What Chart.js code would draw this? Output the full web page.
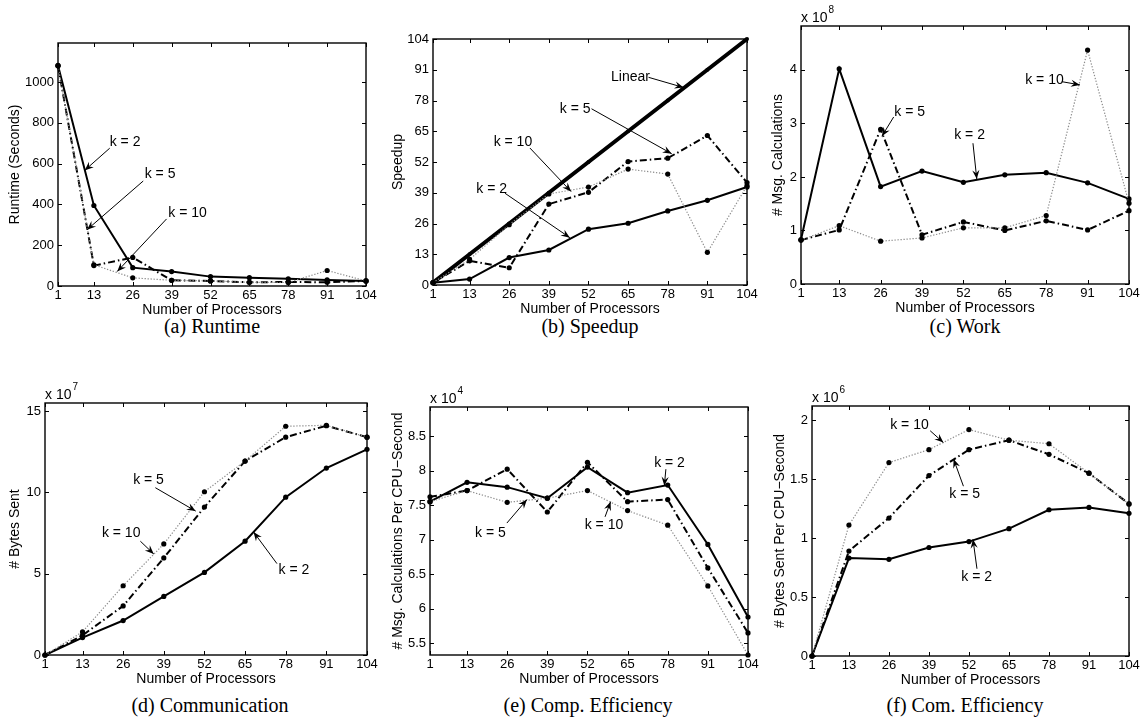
<!DOCTYPE html>
<html><head><meta charset="utf-8">
<script src="https://cdn.jsdelivr.net/npm/chart.js@4.4.1/dist/chart.umd.min.js"></script>
<style>
body{margin:0;background:#fff;width:1143px;height:723px;position:relative;overflow:hidden}
canvas{position:absolute}
.cap{position:absolute;font-family:'Liberation Serif','Times New Roman',serif;font-size:20px;color:#000;transform:translate(-50%,-50%);white-space:nowrap}
</style></head><body>
<div class="cap" style="left:212px;top:326px">(a) Runtime</div>
<div class="cap" style="left:590px;top:326px">(b) Speedup</div>
<div class="cap" style="left:965px;top:326px">(c) Work</div>
<div class="cap" style="left:210px;top:705px">(d) Communication</div>
<div class="cap" style="left:588px;top:705px">(e) Comp. Efficiency</div>
<div class="cap" style="left:965px;top:705px">(f) Com. Efficiency</div>
<script>
// ---- data ----
const procs = [1, 13, 26, 39, 52, 65, 78, 91, 104];

// (a) Runtime (seconds)
const runtimeK2  = [1082, 395, 90, 71, 46, 41, 35, 30, 25];
const runtimeK5  = [1080, 100, 140, 28, 25, 18, 20, 18, 25];
const runtimeK10 = [1080, 104, 40, 28, 25, 18, 17, 76, 25];
const runtimeTicks = [0, 200, 400, 600, 800, 1000];

// (b) Speedup
const speedupLinear = [1, 13, 26, 39, 52, 65, 78, 91, 104];
const speedupK2  = [1, 2.5, 11.6, 14.8, 23.6, 26.1, 31.3, 35.8, 41.4];
const speedupK5  = [1, 10.2, 7.3, 34.2, 39.2, 52.2, 53.6, 63.2, 43.3];
const speedupK10 = [1, 10.8, 25.5, 38.5, 41.4, 49.0, 46.9, 13.8, 42.0];
const speedupTicks = [0, 13, 26, 39, 52, 65, 78, 91, 104];

// (c) Work (# msg calculations, x 10^8)
const workK2  = [0.83, 4.02, 1.82, 2.11, 1.90, 2.04, 2.08, 1.89, 1.59];
const workK5  = [0.82, 1.01, 2.89, 0.92, 1.16, 1.00, 1.18, 1.01, 1.37];
const workK10 = [0.82, 1.09, 0.80, 0.86, 1.05, 1.05, 1.28, 4.37, 1.51];
const workTicks = [0, 1, 2, 3, 4];

// (d) Communication (# bytes sent, x 10^7)
const commK2  = [0, 1.07, 2.12, 3.60, 5.08, 7.00, 9.71, 11.50, 12.65];
const commK5  = [0, 1.21, 3.02, 5.97, 9.10, 11.93, 13.40, 14.10, 13.40];
const commK10 = [0, 1.42, 4.26, 6.83, 10.04, 11.93, 14.07, 14.13, 13.40];
const commTicks = [0, 5, 10, 15];

// (e) Comp. efficiency (x 10^4)
const compEffK2  = [7.55, 7.83, 7.76, 7.60, 8.05, 7.68, 7.79, 6.93, 5.88];
const compEffK5  = [7.62, 7.71, 8.02, 7.40, 8.12, 7.55, 7.58, 6.59, 5.65];
const compEffK10 = [7.55, 7.71, 7.54, 7.60, 7.71, 7.42, 7.21, 6.33, 5.33];
const compEffTicks = [5.5, 6, 6.5, 7, 7.5, 8, 8.5];

// (f) Com. efficiency (x 10^6)
const comEffK2  = [0, 0.83, 0.82, 0.92, 0.97, 1.08, 1.24, 1.26, 1.21];
const comEffK5  = [0, 0.89, 1.17, 1.53, 1.75, 1.83, 1.71, 1.55, 1.29];
const comEffK10 = [0, 1.11, 1.64, 1.75, 1.92, 1.83, 1.80, 1.55, 1.29];
const comEffTicks = [0, 0.5, 1, 1.5, 2];

// ---- drawing helpers ----
const SANS = "'Liberation Sans', Arial, Helvetica, sans-serif";

function drawArrow(ctx, x0, y0, x1, y1) {
  ctx.beginPath(); ctx.moveTo(x0, y0); ctx.lineTo(x1, y1); ctx.stroke();
  const a = Math.atan2(y1 - y0, x1 - x0), L = 9, W = 3.6;
  const c = Math.cos(a), s = Math.sin(a);
  const bx = x1 - L * c, by = y1 - L * s;
  ctx.beginPath();
  ctx.moveTo(x1, y1);
  ctx.lineTo(bx - s * W, by + c * W);
  ctx.lineTo(x1 - 0.65 * L * c, y1 - 0.65 * L * s);
  ctx.lineTo(bx + s * W, by - c * W);
  ctx.closePath(); ctx.fill();
}

const framePlugin = {
  id: 'matlabFrame',
  afterDatasetsDraw(chart, args, opts) {
    const {ctx, chartArea: A, scales: {x, y}} = chart;
    ctx.save();
    ctx.strokeStyle = '#000'; ctx.fillStyle = '#000';
    ctx.lineWidth = 1.4;
    ctx.strokeRect(A.left, A.top, A.right - A.left, A.bottom - A.top);
    ctx.lineWidth = 1;
    ctx.beginPath();
    x.ticks.forEach(t => {
      const p = Math.round(x.getPixelForValue(t.value)) + 0.5;
      ctx.moveTo(p, A.bottom); ctx.lineTo(p, A.bottom - 4);
      ctx.moveTo(p, A.top); ctx.lineTo(p, A.top + 4);
    });
    y.ticks.forEach(t => {
      const p = Math.round(y.getPixelForValue(t.value)) + 0.5;
      ctx.moveTo(A.left, p); ctx.lineTo(A.left + 4, p);
      ctx.moveTo(A.right, p); ctx.lineTo(A.right - 4, p);
    });
    ctx.stroke();
    if (opts.exp) {
      ctx.textBaseline = 'middle'; ctx.textAlign = 'left';
      ctx.font = '14px ' + SANS;
      ctx.fillText('x 10', A.left, A.top - 8);
      const w = ctx.measureText('x 10').width;
      ctx.font = '10px ' + SANS;
      ctx.fillText(opts.exp, A.left + w + 1, A.top - 16);
    }
    ctx.font = '14px ' + SANS;
    ctx.textBaseline = 'middle'; ctx.textAlign = 'left';
    (opts.notes || []).forEach(n => {
      ctx.fillText(n.text, x.getPixelForValue(n.tx), y.getPixelForValue(n.ty));
      drawArrow(ctx, x.getPixelForValue(n.fx), y.getPixelForValue(n.fy),
                x.getPixelForValue(n.ax), y.getPixelForValue(n.ay));
    });
    ctx.restore();
  }
};

function series(vals, style) {
  const base = {
    data: procs.map((p, i) => ({x: p, y: vals[i]})),
    pointRadius: 2.6, pointHoverRadius: 2.6, pointBackgroundColor: '#000',
    pointBorderWidth: 0, pointBorderColor: '#000', tension: 0, clip: false, fill: false
  };
  if (style === 'k2') return Object.assign(base, {borderColor: '#000', borderWidth: 2});
  if (style === 'k5') return Object.assign(base, {borderColor: '#000', borderWidth: 2, borderDash: [7, 3, 1.5, 3]});
  if (style === 'k10') return Object.assign(base, {borderColor: '#8c8c8c', borderWidth: 1.2, borderDash: [1.3, 1.7]});
  if (style === 'lin') return Object.assign(base, {borderColor: '#000', borderWidth: 4, pointRadius: 2});
  return base;
}

function makePanel(p) {
  const XH = 33, PR = 16;
  const cv = document.createElement('canvas');
  const cl = p.cl, ct = p.ct;
  const W = p.r - cl + PR, H = p.b + XH - ct;
  cv.width = W; cv.height = H;
  cv.style.left = cl + 'px'; cv.style.top = ct + 'px';
  cv.style.width = W + 'px'; cv.style.height = H + 'px';
  document.body.appendChild(cv);
  const YW = p.l - cl, PT = p.t - ct;
  new Chart(cv, {
    type: 'line',
    data: {datasets: p.datasets},
    plugins: [framePlugin],
    options: {
      responsive: false, animation: false, devicePixelRatio: 1,
      layout: {padding: {top: PT, right: PR, left: 0, bottom: 0}},
      plugins: {legend: {display: false}, tooltip: {enabled: false},
                matlabFrame: {exp: p.exp, notes: p.notes}},
      scales: {
        x: {
          type: 'linear', min: 1, max: 104,
          afterBuildTicks: s => { s.ticks = procs.map(v => ({value: v})); },
          afterFit: s => { s.height = XH; },
          grid: {display: false, drawTicks: false}, border: {display: false},
          ticks: {font: {family: SANS, size: 13}, color: '#000', padding: 2,
                  autoSkip: false, maxRotation: 0, callback: v => String(v)},
          title: {display: true, text: 'Number of Processors', color: '#000',
                  font: {family: SANS, size: 14}, padding: 0}
        },
        y: {
          type: 'linear', min: p.ymin, max: p.ymax,
          afterBuildTicks: s => { s.ticks = p.yticks.map(v => ({value: v})); },
          afterFit: s => { s.width = YW; },
          grid: {display: false, drawTicks: false}, border: {display: false},
          ticks: {font: {family: SANS, size: 13}, color: '#000', padding: 4,
                  autoSkip: false, callback: v => String(v)},
          title: {display: true, text: p.ytitle, color: '#000',
                  font: {family: SANS, size: 14}, padding: 0}
        }
      }
    }
  });
}

const panels = [
  {cl: 7, ct: 0, l: 58, t: 43, r: 366, b: 286, ymin: 0, ymax: 1192, yticks: runtimeTicks,
   ytitle: 'Runtime (Seconds)',
   datasets: [series(runtimeK10, 'k10'), series(runtimeK5, 'k5'), series(runtimeK2, 'k2')],
   notes: [
     {text: 'k = 2', tx: 18.3, ty: 707, fx: 18.3, fy: 676, ax: 9.9, ay: 567},
     {text: 'k = 5', tx: 30.0, ty: 548, fx: 29.5, fy: 515, ax: 10.7, ay: 276},
     {text: 'k = 10', tx: 37.9, ty: 359, fx: 37.3, fy: 329, ax: 20.8, ay: 71}
   ]},
  {cl: 390, ct: 0, l: 433, t: 39, r: 747, b: 285, ymin: 0, ymax: 104, yticks: speedupTicks,
   ytitle: 'Speedup',
   datasets: [series(speedupK10, 'k10'), series(speedupK5, 'k5'), series(speedupK2, 'k2'), series(speedupLinear, 'lin')],
   notes: [
     {text: 'Linear', tx: 59.4, ty: 87.8, fx: 71.7, fy: 87.8, ax: 83.2, ay: 83.5},
     {text: 'k = 5', tx: 42.6, ty: 74.5, fx: 53.0, fy: 74.5, ax: 79.3, ay: 55.5},
     {text: 'k = 10', tx: 20.9, ty: 60.4, fx: 32.8, fy: 57.9, ax: 46.3, ay: 39.5},
     {text: 'k = 2', tx: 15.2, ty: 40.5, fx: 24.6, fy: 38.8, ax: 45.9, ay: 20.0}
   ]},
  {cl: 770, ct: 0, l: 801, t: 26, r: 1129, b: 284, ymin: 0, ymax: 4.82, yticks: workTicks,
   ytitle: '# Msg. Calculations', exp: '8',
   datasets: [series(workK10, 'k10'), series(workK5, 'k5'), series(workK2, 'k2')],
   notes: [
     {text: 'k = 5', tx: 30.3, ty: 3.21, fx: 30.1, fy: 3.12, ax: 26.4, ay: 2.76},
     {text: 'k = 2', tx: 49.1, ty: 2.79, fx: 55.0, fy: 2.63, ax: 56.2, ay: 1.96},
     {text: 'k = 10', tx: 71.4, ty: 3.80, fx: 82.9, fy: 3.78, ax: 88.6, ay: 3.72}
   ]},
  {cl: 7, ct: 370, l: 45, t: 403, r: 367, b: 655, ymin: 0, ymax: 15.5, yticks: commTicks,
   ytitle: '# Bytes Sent', exp: '7',
   datasets: [series(commK10, 'k10'), series(commK5, 'k5'), series(commK2, 'k2')],
   notes: [
     {text: 'k = 5', tx: 29.2, ty: 10.76, fx: 36.3, fy: 10.29, ax: 49.2, ay: 8.85},
     {text: 'k = 10', tx: 19.2, ty: 7.47, fx: 31.5, fy: 7.0, ax: 35.8, ay: 6.21},
     {text: 'k = 2', tx: 75.7, ty: 5.21, fx: 75.2, fy: 5.62, ax: 67.7, ay: 7.57}
   ]},
  {cl: 390, ct: 370, l: 430, t: 407, r: 748, b: 655, ymin: 5.33, ymax: 8.92, yticks: compEffTicks,
   ytitle: '# Msg. Calculations Per CPU\u2212Second', exp: '4',
   datasets: [series(compEffK10, 'k10'), series(compEffK5, 'k5'), series(compEffK2, 'k2')],
   notes: [
     {text: 'k = 2', tx: 73.6, ty: 8.11, fx: 77.4, fy: 8.02, ax: 76.9, ay: 7.78},
     {text: 'k = 5', tx: 15.6, ty: 7.09, fx: 25.9, fy: 7.24, ax: 32.4, ay: 7.58},
     {text: 'k = 10', tx: 51.1, ty: 7.21, fx: 57.7, fy: 7.33, ax: 59.5, ay: 7.55}
   ]},
  {cl: 772, ct: 370, l: 812, t: 406, r: 1129, b: 656, ymin: 0, ymax: 2.12, yticks: comEffTicks,
   ytitle: '# Bytes Sent Per CPU\u2212Second', exp: '6',
   datasets: [series(comEffK10, 'k10'), series(comEffK5, 'k5'), series(comEffK2, 'k2')],
   notes: [
     {text: 'k = 10', tx: 26.4, ty: 1.96, fx: 39.4, fy: 1.91, ax: 43.7, ay: 1.81},
     {text: 'k = 5', tx: 45.6, ty: 1.37, fx: 50.2, fy: 1.44, ax: 47.0, ay: 1.67},
     {text: 'k = 2', tx: 49.5, ty: 0.67, fx: 54.6, fy: 0.74, ax: 53.3, ay: 0.99}
   ]}
];
panels.forEach(makePanel);
</script>
</body></html>
